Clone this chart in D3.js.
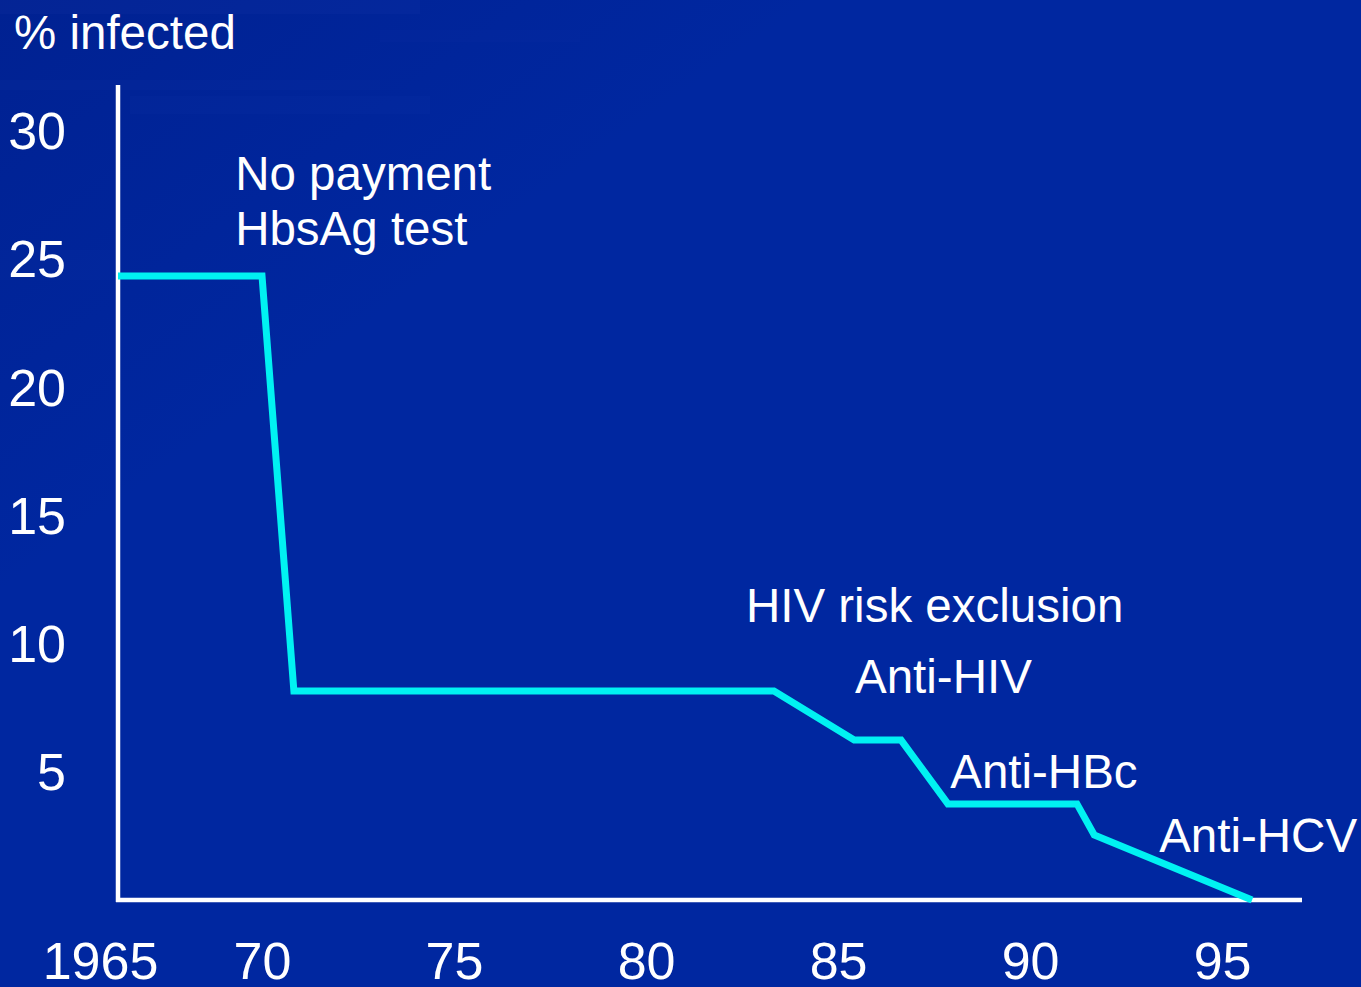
<!DOCTYPE html>
<html>
<head>
<meta charset="utf-8">
<script src="https://cdn.jsdelivr.net/npm/d3@7"></script>
<style>
  html, body { margin: 0; padding: 0; background: #0027a0; overflow: hidden; }
  svg { display: block; }
  text { font-family: "Liberation Sans", Arial, sans-serif; fill: #ffffff; }
</style>
</head>
<body>
<svg id="chart" width="1361" height="987"></svg>
<script>
// ---- Data ----
const years  = [1966.25, 1970, 1970.83, 1983.33, 1985.42, 1986.64, 1987.86, 1991.22, 1991.67, 1995.78];
const values = [24.35,   24.35, 8.15,   8.15,    6.24,    6.24,    3.75,    3.75,    2.54,    0];
const xTickValues = [1965, 1970, 1975, 1980, 1985, 1990, 1995];
const xTickLabels = ["1965", "70", "75", "80", "85", "90", "95"];
const yTickValues = [5, 10, 15, 20, 25, 30];
const yTitle = "% infected";
const annotations = [
  { text: "No payment",          year: 1969.3,  value: 27.7 },
  { text: "HbsAg test",          year: 1969.3,  value: 25.55 },
  { text: "HIV risk exclusion",  year: 1982.6,  value: 10.85 },
  { text: "Anti-HIV",            year: 1985.44, value: 8.08 },
  { text: "Anti-HBc",            year: 1987.92, value: 4.37 },
  { text: "Anti-HCV",            year: 1993.36, value: 1.87 }
];

// ---- Layout ----
const svg = d3.select("#chart");
const W = 1361, H = 987;

// background with faint texture at top-left
const defs = svg.append("defs");
const g1 = defs.append("linearGradient").attr("id", "bgShade")
  .attr("x1", "0").attr("y1", "0").attr("x2", "1").attr("y2", "1");
g1.append("stop").attr("offset", "0").attr("stop-color", "#001a80").attr("stop-opacity", 0.45);
g1.append("stop").attr("offset", "0.3").attr("stop-color", "#001a80").attr("stop-opacity", 0.0);
svg.append("rect").attr("width", W).attr("height", H).attr("fill", "#0027a0");
svg.append("rect").attr("width", W).attr("height", H).attr("fill", "url(#bgShade)");
// a few soft streaks
const streaks = [[0, 0, 420, 14, 0.08], [0, 80, 380, 10, 0.06], [130, 96, 300, 18, 0.05], [0, 250, 110, 30, 0.05], [380, 30, 200, 12, 0.04]];
svg.append("g").selectAll("rect").data(streaks).join("rect")
  .attr("x", d => d[0]).attr("y", d => d[1]).attr("width", d => d[2]).attr("height", d => d[3])
  .attr("fill", "#3050c0").attr("opacity", d => d[4]);

const x = d3.scaleLinear().domain([1966.25, 1997.08]).range([118, 1302]);
const y = d3.scaleLinear().domain([0, 31.8]).range([900, 85]);

// ---- Axes ----
const xAxis = d3.axisBottom(x).tickValues(xTickValues)
  .tickFormat((d, i) => xTickLabels[i]).tickSize(0).tickSizeOuter(0).tickPadding(0);
const gx = svg.append("g").attr("transform", `translate(0,${y(0)})`).call(xAxis);
gx.select(".domain").attr("stroke", "#ffffff").attr("stroke-width", 4.5).attr("d", `M${x.range()[0] - 2},0H${x.range()[1]}`);
gx.selectAll(".tick line").remove();
gx.selectAll(".tick text")
  .attr("font-size", 52).attr("fill", "#ffffff").attr("y", 79).attr("dy", 0)
  .attr("dx", (d, i) => i === 0 ? 30 : 0)
  .style("font-family", "'Liberation Sans', Arial, sans-serif");

const yAxis = d3.axisLeft(y).tickValues(yTickValues).tickSize(0).tickSizeOuter(0).tickPadding(52);
const gy = svg.append("g").attr("transform", `translate(${x.range()[0]},0)`).call(yAxis);
gy.select(".domain").attr("stroke", "#ffffff").attr("stroke-width", 4.5).attr("d", `M0,${y.range()[0] + 2}V${y.range()[1]}`);
gy.selectAll(".tick line").remove();
gy.selectAll(".tick text")
  .attr("font-size", 52).attr("fill", "#ffffff").attr("dy", "0.34em")
  .style("font-family", "'Liberation Sans', Arial, sans-serif");

// y title
svg.append("text").attr("x", 14).attr("y", 49).attr("font-size", 47.5).text(yTitle);

// ---- Line ----
const pts = years.map((yr, i) => [yr, values[i]]);
const line = d3.line().x(d => x(d[0])).y(d => y(d[1]));
svg.append("path").datum(pts)
  .attr("d", line)
  .attr("fill", "none")
  .attr("stroke", "#00f2f2")
  .attr("stroke-width", 7)
  .attr("stroke-linejoin", "miter")
  .attr("stroke-linecap", "butt");

// ---- Annotations ----
svg.append("g").selectAll("text").data(annotations).join("text")
  .attr("x", d => x(d.year)).attr("y", d => y(d.value))
  .attr("font-size", 47.5)
  .text(d => d.text);
</script>
</body>
</html>
